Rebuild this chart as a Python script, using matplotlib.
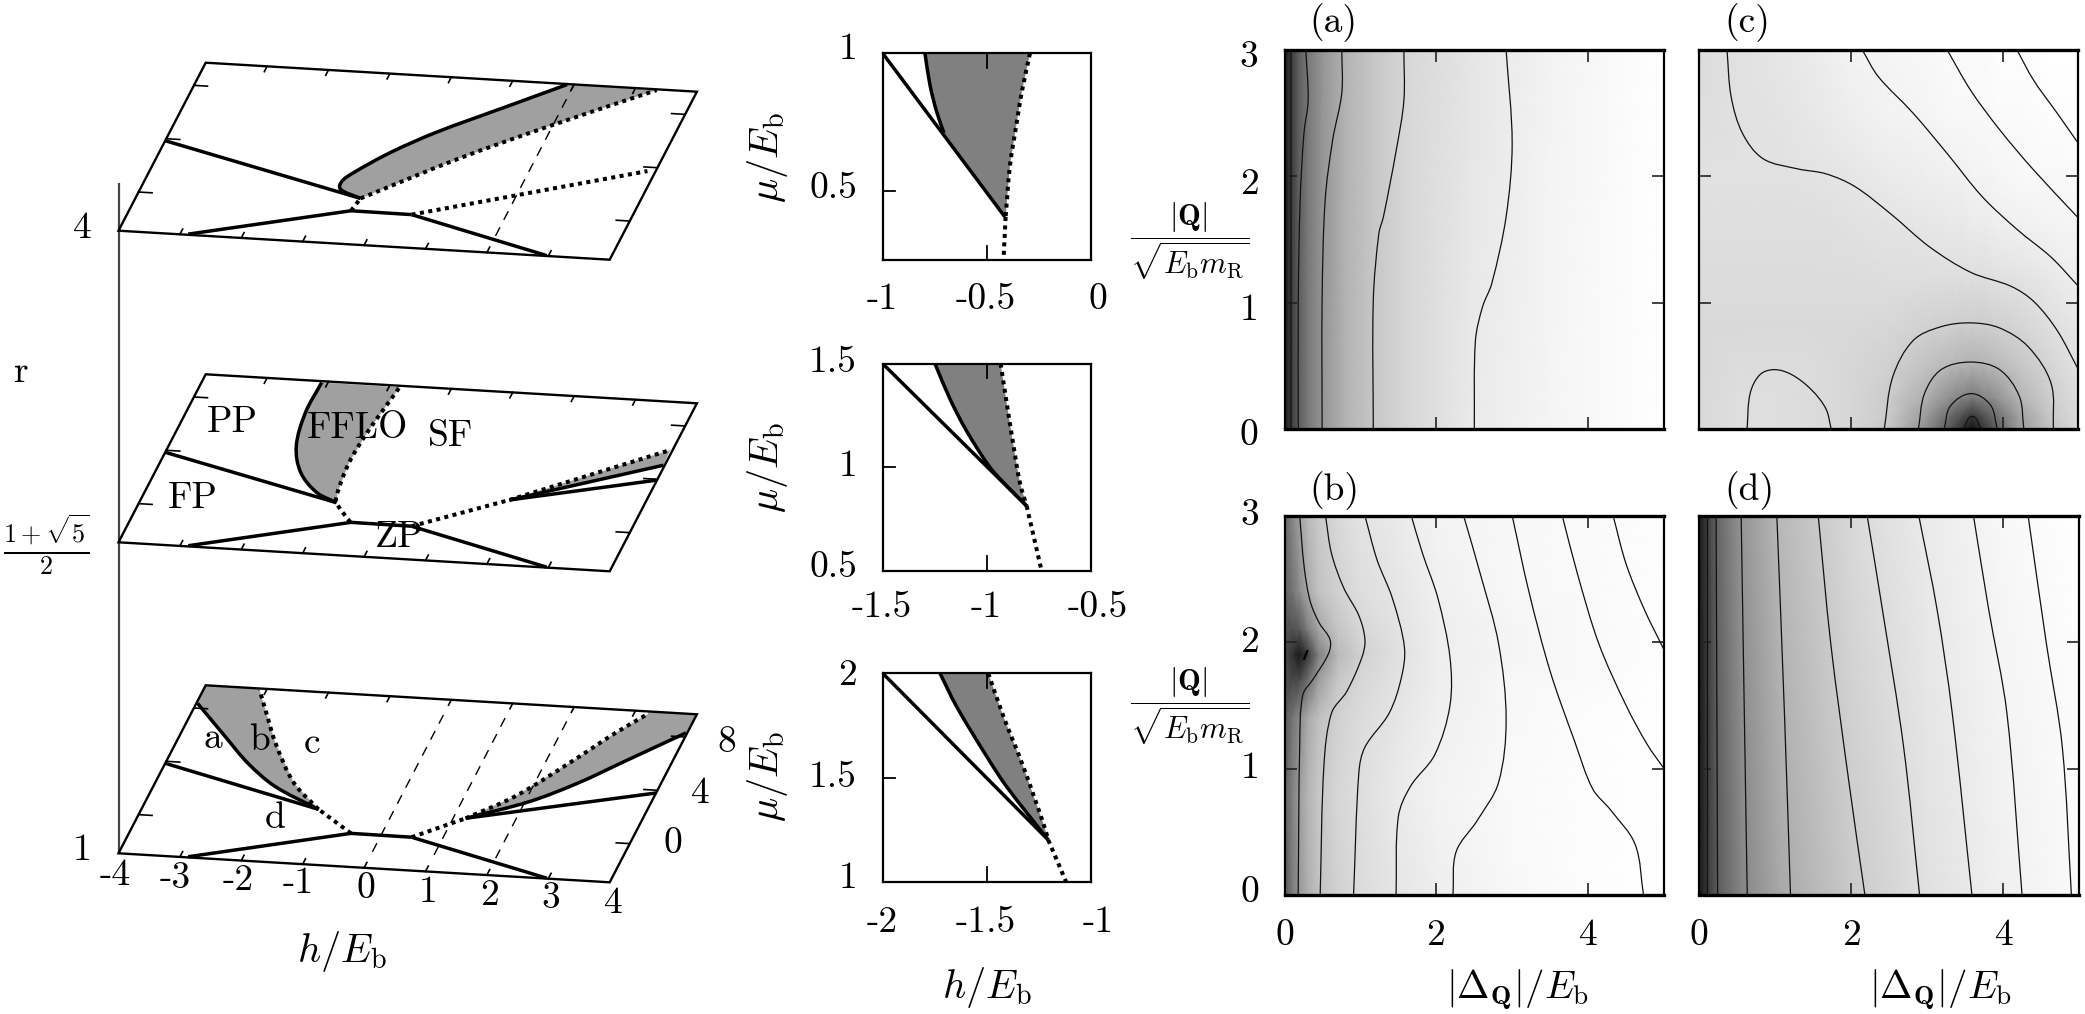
import numpy as np
import matplotlib
matplotlib.use('Agg')
import matplotlib.pyplot as plt
from matplotlib.path import Path
from matplotlib.patches import PathPatch, Polygon
from matplotlib.transforms import Affine2D

plt.rcParams['mathtext.fontset'] = 'cm'
W, H = 2085, 1014

# ---------- 3D stacked phase-diagram data (h, mu) ----------
h_ticks = [-3, -2, -1, 0, 1, 2, 3]
mu_ticks = [0, 4, 8]
H_MIN, H_MAX = -4, 4
MU_MIN, MU_MAX = -2.9, 9.7
base_h = [-2.87, -0.49, 0.5, 2.97]
base_mu = [-2.85, -0.45, -0.47, -2.87]

# r = 1 plane
b_left_h, b_left_mu = [-1.2, -4.0], [1.16, 3.85]
b_right_h, b_right_mu = [1.2, 4.0], [1.14, 3.8]
b_dot_l_h, b_dot_l_mu = [-0.49, -1.2], [-0.45, 1.16]
b_dot_r_h, b_dot_r_mu = [0.5, 1.2], [-0.47, 1.14]
b_sol_l_h = [-1.2, -2.07, -2.69, -3.27, -3.98]
b_sol_l_mu = [1.16, 2.63, 4.2, 6.05, 8.35]
b_dots_l_h = [-1.2, -1.8, -2.42, -2.81, -3.11]
b_dots_l_mu = [1.16, 2.95, 5.78, 7.92, 9.59]
b_sol_r_h = [1.2, 2.07, 2.69, 3.27, 3.98]
b_sol_r_mu = [1.14, 2.63, 4.2, 6.05, 8.3]
b_dots_r_h = [1.2, 1.8, 2.42, 2.85, 3.22]
b_dots_r_mu = [1.14, 2.95, 5.78, 7.92, 9.5]
b_dash_h = [0, 1, 2]
b_dash_lo = [-1.7, -1.66, -1.64]
b_dash_hi = [8.6, 8.6, 8.9]

# r = (1+sqrt5)/2 plane
m_left_h, m_left_mu = [-0.88, -4.0], [0.92, 3.85]
m_sol_h = [-0.88, -1.27, -1.69, -1.98, -2.11, -2.1]
m_sol_mu = [0.92, 1.56, 2.95, 4.87, 7.35, 9.6]
m_dots_h = [-0.5, -0.88, -0.947, -1.01, -0.97, -0.83]
m_dots_mu = [-0.45, 0.92, 1.65, 3.9, 6.16, 9.59]
m_dot_r_h, m_dot_r_mu = [0.5, 1.83], [-0.47, 1.86]
m_r1_h, m_r1_mu = [1.83, 3.99], [1.86, 3.93]
m_r2_h, m_r2_mu = [1.83, 3.98], [1.86, 5.05]
m_r3_h, m_r3_mu = [1.83, 3.96], [1.86, 6.18]

# r = 4 plane
t_left_h, t_left_mu = [-0.44, -4.0], [0.49, 3.85]
t_dot_l_h, t_dot_l_mu = [-0.49, -0.44], [-0.45, 0.49]
t_dot_r_h, t_dot_r_mu = [0.5, 3.87], [-0.47, 3.71]
t_sol_h = [-0.44, -0.827, -0.874, -0.762, -0.347, 0.213, 1.094, 1.89]
t_sol_mu = [0.49, 1.06, 1.67, 2.33, 3.95, 5.62, 7.75, 9.66]
t_dots_h = [-0.44, 0.79, 1.91, 3.35]
t_dots_mu = [0.49, 3.82, 6.47, 9.64]
t_dash_h, t_dash_lo, t_dash_hi = [2], [-1.66], [9.6]

# ---------- inset data ----------
i1_line_h, i1_line_mu = [-1, -0.413], [1, 0.406]
i1_sol_h = [-0.797, -0.773, -0.741, -0.706]
i1_sol_mu = [1, 0.885, 0.788, 0.711]
i1_dot_h = [-0.293, -0.333, -0.357, -0.389, -0.41]
i1_dot_mu = [1, 0.857, 0.746, 0.593, 0.406]
i1_low_h, i1_low_mu = [-0.41, -0.42], [0.406, 0.25]

i2_line_h, i2_line_mu = [-1.5, -0.809], [1.5, 0.814]
i2_sol_h = [-1.249, -1.177, -1.097, -0.985, -0.9, -0.809]
i2_sol_mu = [1.5, 1.33, 1.175, 1.0, 0.906, 0.814]
i2_dot_h = [-0.934, -0.905, -0.873, -0.841, -0.809]
i2_dot_mu = [1.5, 1.312, 1.109, 0.924, 0.814]
i2_low_h, i2_low_mu = [-0.809, -0.737], [0.814, 0.5]

i3_line_h, i3_line_mu = [-2, -1.205], [2, 1.2]
i3_sol_h = [-1.725, -1.645, -1.5, -1.405, -1.205]
i3_sol_mu = [2, 1.84, 1.6, 1.456, 1.2]
i3_dot_h = [-1.493, -1.42, -1.325, -1.229, -1.205]
i3_dot_mu = [2, 1.792, 1.552, 1.28, 1.2]
i3_low_h, i3_low_mu = [-1.205, -1.12], [1.2, 1]

# ---------- grey fields (grey level) ----------
a_x = [0, .07, .175, .3, .49, .8, 1.17, 1.6, 2.5, 3.5, 5]
a_y = [0, 3]
a_z = [[.12, .22, .36, .47, .58, .70, .78, .84, .92, .96, 1.0],
       [.12, .22, .36, .47, .58, .70, .78, .84, .90, .95, 1.0]]

c_x = [0, .5, 1, 1.5, 2, 2.5, 3, 3.3, 3.45, 3.6, 3.75, 3.9, 4.2, 4.6, 5]
c_y = [0, .1, .25, .5, .8, 1.2, 1.6, 2, 2.5, 3]
c_z = [[.85, .87, .87, .86, .84, .78, .55, .35, .22, .06, .22, .35, .6, .75, .85],
       [.85, .87, .87, .86, .84, .79, .6, .42, .32, .22, .32, .42, .62, .77, .86],
       [.85, .87, .87, .86, .84, .8, .68, .57, .52, .48, .52, .57, .7, .8, .87],
       [.85, .86, .86, .86, .84, .82, .76, .72, .70, .69, .70, .72, .77, .83, .89],
       [.85, .85, .85, .85, .85, .84, .82, .81, .80, .8, .80, .81, .83, .87, .9],
       [.86, .86, .86, .86, .86, .87, .87, .87, .87, .87, .87, .88, .89, .91, .93],
       [.87, .87, .87, .87, .88, .89, .90, .91, .91, .92, .92, .93, .94, .95, .96],
       [.88, .88, .88, .89, .90, .92, .93, .94, .94, .95, .95, .96, .97, .97, .98],
       [.87, .88, .89, .91, .93, .95, .96, .97, .97, .97, .97, .98, .98, .99, .99],
       [.86, .88, .90, .92, .95, .96, .97, .98, .98, .98, .98, .99, .99, 1, 1]]

b_x = [0, .1, .2, .3, .45, .7, 1, 1.5, 2, 3, 4, 5]
b_y = [0, .8, 1.4, 1.7, 1.9, 2.1, 2.4, 3]
b_z = [[.35, .48, .6, .68, .76, .82, .86, .9, .93, .97, .99, 1],
       [.38, .5, .62, .7, .78, .84, .87, .92, .95, .98, .99, 1],
       [.35, .45, .55, .66, .75, .82, .86, .9, .94, .97, .99, 1],
       [.3, .28, .3, .42, .62, .78, .84, .89, .93, .97, .98, 1],
       [.3, .2, .1, .22, .5, .72, .82, .88, .93, .96, .98, .99],
       [.33, .32, .35, .48, .65, .77, .84, .89, .93, .96, .98, .99],
       [.38, .45, .55, .66, .76, .82, .87, .9, .94, .97, .98, .99],
       [.4, .52, .63, .72, .79, .85, .89, .92, .95, .97, .98, .99]]

d_x = [0, .12, .24, .55, 1.05, 2, 3, 4, 5]
d_y = [0, 3]
d_z = [[.1, .24, .36, .52, .66, .79, .88, .94, .98],
       [.1, .26, .40, .58, .72, .85, .92, .97, 1.0]]

# ---------- contour lines (x at y) ----------
a_lines = [
    ([.08, .08, .08], [0, 1.5, 3]),
    ([.175, .175, .2, .25, .305, .275], [0, 1.02, 1.81, 2.34, 2.6, 3]),
    ([.49, .49, .53, .63, .75, .75], [0, 1.02, 1.81, 2.29, 2.66, 3]),
    ([1.166, 1.166, 1.24, 1.30, 1.47, 1.57, 1.57], [0, 1.02, 1.55, 1.68, 2.21, 2.6, 3]),
    ([2.5, 2.515, 2.61, 2.73, 2.92, 3.0, 2.92], [0, .70, .97, 1.15, 1.68, 2.26, 3.0]),
]
c_lines = [
    ([.365, .42, .57, .84, 1.29, 1.67, 2.05, 2.51, 3.04, 3.58, 4.11, 4.41, 4.72, 5],
     [3, 2.63, 2.34, 2.14, 2.06, 2.02, 1.92, 1.71, 1.44, 1.24, 1.13, 1.01, .78, .47]),
    ([2.15, 2.36, 2.82, 3.27, 3.73, 4.19, 4.64, 5], [3, 2.79, 2.5, 2.18, 1.84, 1.58, 1.36, 1.13]),
    ([3.27, 3.58, 3.96, 4.41, 5], [3, 2.68, 2.37, 2.05, 1.67]),
    ([4.19, 4.41, 4.72, 5], [3, 2.76, 2.5, 2.26]),
    ([.63, .67, .8, .99, 1.22, 1.48, 1.67, 1.74], [0, .28, .43, .47, .43, .31, .16, 0]),
    ([2.44, 2.55, 2.82, 3.19, 3.58, 3.96, 4.34, 4.64, 4.67], [0, .41, .70, .81, .84, .80, .65, .36, 0]),
    ([2.89, 2.97, 3.19, 3.58, 3.96, 4.22, 4.28], [0, .28, .47, .53, .47, .26, 0]),
    ([3.23, 3.31, 3.58, 3.84, 3.93], [0, .18, .28, .19, 0]),
    ([3.48, 3.6, 3.72], [0, .10, 0]),
]
b_lines = [
    ([.18, .2, .24, .38, .58, .6, .46, .34, .26, .2], [0, 1.17, 1.58, 1.71, 1.91, 2.02, 2.15, 2.32, 2.59, 3]),
    ([.47, .52, .62, .82, 1.02, 1.06, .98, .78, .62, .54], [0, 1.03, 1.44, 1.61, 1.88, 2.02, 2.21, 2.43, 2.70, 3]),
    ([.91, .98, 1.06, 1.38, 1.54, 1.58, 1.42, 1.22, 1.06], [0, .97, 1.17, 1.44, 1.72, 1.96, 2.35, 2.65, 3]),
    ([1.47, 1.5, 1.66, 1.98, 2.18, 2.18, 2.02, 1.82, 1.67], [0, .62, .86, 1.11, 1.5, 1.88, 2.35, 2.70, 3]),
    ([2.22, 2.26, 2.54, 2.82, 2.92, 2.82, 2.58, 2.36], [0, .34, .59, .89, 1.39, 1.99, 2.54, 3]),
    ([4.73, 4.62, 4.30, 4.06, 3.82, 3.5, 3.22, 3.0], [0, .40, .67, .84, 1.22, 1.77, 2.40, 3]),
    ([5, 4.78, 4.5, 4.14, 3.86, 3.66], [1.0, 1.19, 1.5, 1.99, 2.54, 3]),
    ([5, 4.74, 4.5, 4.33], [1.94, 2.26, 2.62, 3]),
]
d_lines = [
    ([.1, .1], [0, 3]),
    ([.24, .22], [0, 3]),
    ([.63, .55], [0, 3]),
    ([1.2, 1.12, 1.02], [0, 1.44, 3]),
    ([2.18, 1.97, 1.73, 1.565], [0, .89, 1.99, 3]),
    ([2.9, 2.69, 2.41, 2.21], [0, 1.17, 2.26, 3]),
    ([3.59, 3.33, 3.13, 2.89], [0, 1.44, 2.26, 3]),
    ([4.25, 4.05, 3.81, 3.61], [0, 1.44, 2.26, 3]),
    ([4.9, 4.78, 4.57, 4.33], [0, 1.17, 1.99, 3]),
]

# ---------- helpers ----------
fig = plt.figure(figsize=(W / 100, H / 100), dpi=100)
page = fig.add_axes([0, 0, 1, 1])
page.set_xlim(0, W)
page.set_ylim(H, 0)
page.axis('off')


def smooth(xs, ys, scale=(1.0, 1.0)):
    sc = np.array(scale, float)
    p = np.column_stack([xs, ys]).astype(float) * sc
    if len(p) < 3:
        return Path(p / sc)
    n = len(p)
    tang = np.zeros_like(p)
    for i in range(n):
        d = p[min(i + 1, n - 1)] - p[max(i - 1, 0)]
        tang[i] = d / max(np.hypot(*d), 1e-9)
    verts, codes = [p[0]], [Path.MOVETO]
    for i in range(n - 1):
        seg = np.hypot(*(p[i + 1] - p[i])) / 3
        verts += [p[i] + tang[i] * seg, p[i + 1] - tang[i + 1] * seg, p[i + 1]]
        codes += [Path.CURVE4] * 3
    return Path(np.array(verts) / sc, codes)


def curve(ax, xs, ys, tf=None, scale=(1.0, 1.0), **kw):
    kw.setdefault('fill', False)
    kw.setdefault('capstyle', 'butt')
    ax.add_patch(PathPatch(smooth(xs, ys, scale), transform=(tf if tf is not None else ax.transData), **kw))


THICK = dict(lw=2.5, ec='k')
DOT = dict(lw=2.9, ec='k', ls=(0, (1.0, 1.1)))
THIN_DASH = dict(lw=1.0, ec='k', ls=(0, (7, 6)))
PLANE_SCALE = (1.0, .4)
LABEL_SIZE = 27
MATH_SIZE = 29


def label(x, y, s, size=LABEL_SIZE, **kw):
    page.text(x, y, s, fontsize=size, family='cmr10', ha='center', va='center', color='k', **kw)


def math(x, y, s, size=MATH_SIZE, **kw):
    page.text(x, y, s, fontsize=size, ha='center', va='center', color='k', **kw)


def plane(y0):
    sx = 491.2 / (H_MAX - H_MIN)
    sy = 29 / (H_MAX - H_MIN)
    ux = 87.2 / (MU_MAX - MU_MIN)
    uy = -168 / (MU_MAX - MU_MIN)
    tr = Affine2D.from_values(sx, sy, ux, uy,
                              118.5 - sx * H_MIN - ux * MU_MIN,
                              y0 - sy * H_MIN - uy * MU_MIN)
    tf = tr + page.transData
    corners = [(H_MIN, MU_MIN), (H_MAX, MU_MIN), (H_MAX, MU_MAX), (H_MIN, MU_MAX)]
    page.add_patch(Polygon(corners, closed=True, fill=False, ec='k', lw=1.7, transform=tf, zorder=5))
    for t in h_ticks:
        page.plot([t, t], [MU_MIN, MU_MIN + .4], color='k', lw=1.2, transform=tf, zorder=5)
        page.plot([t, t], [MU_MAX, MU_MAX - .4], color='k', lw=1.2, transform=tf, zorder=5)
    for t in mu_ticks:
        page.plot([H_MIN, H_MIN + .22], [t, t], color='k', lw=1.2, transform=tf, zorder=5)
        page.plot([H_MAX, H_MAX - .22], [t, t], color='k', lw=1.2, transform=tf, zorder=5)
    curve(page, base_h[:2], base_mu[:2], tf, **THICK)
    curve(page, base_h[1:3], base_mu[1:3], tf, **THICK)
    curve(page, base_h[2:], base_mu[2:], tf, **THICK)
    return tf


GREY3D = '#a0a0a0'

# vertical r axis
page.plot([118.5, 118.5], [184, 853], color='#444444', lw=1.6, zorder=1)

# bottom plane
tf = plane(853.3)
page.add_patch(Polygon(list(zip(b_sol_l_h, b_sol_l_mu)) + [(H_MIN, MU_MAX), (b_dots_l_h[-1], MU_MAX)]
                       + list(zip(b_dots_l_h[:0:-1], b_dots_l_mu[:0:-1])),
                       closed=True, fc=GREY3D, ec='none', transform=tf, zorder=1))
page.add_patch(Polygon(list(zip(b_sol_r_h, b_sol_r_mu)) + [(H_MAX, MU_MAX), (b_dots_r_h[-1], MU_MAX)]
                       + list(zip(b_dots_r_h[:0:-1], b_dots_r_mu[:0:-1])),
                       closed=True, fc=GREY3D, ec='none', transform=tf, zorder=1))
for hv, lo, hi in zip(b_dash_h, b_dash_lo, b_dash_hi):
    curve(page, [hv, hv], [lo, hi], tf, **THIN_DASH)
curve(page, b_left_h, b_left_mu, tf, **THICK)
curve(page, b_right_h, b_right_mu, tf, **THICK)
curve(page, b_sol_l_h, b_sol_l_mu, tf, PLANE_SCALE, **THICK)
curve(page, b_sol_r_h, b_sol_r_mu, tf, PLANE_SCALE, **THICK)
curve(page, b_dot_l_h, b_dot_l_mu, tf, **DOT)
curve(page, b_dot_r_h, b_dot_r_mu, tf, **DOT)
curve(page, b_dots_l_h, b_dots_l_mu, tf, PLANE_SCALE, **DOT)
curve(page, b_dots_r_h, b_dots_r_mu, tf, PLANE_SCALE, **DOT)

# middle plane
tf = plane(542.3)
page.add_patch(Polygon(list(zip(m_sol_h, m_sol_mu)) + list(zip(m_dots_h[:1:-1], m_dots_mu[:1:-1])),
                       closed=True, fc=GREY3D, ec='none', transform=tf, zorder=1))
page.add_patch(Polygon(list(zip(m_r2_h, m_r2_mu)) + [(m_r3_h[1], m_r3_mu[1])],
                       closed=True, fc=GREY3D, ec='none', transform=tf, zorder=1))
curve(page, m_left_h, m_left_mu, tf, **THICK)
curve(page, m_sol_h, m_sol_mu, tf, PLANE_SCALE, **THICK)
curve(page, m_dots_h, m_dots_mu, tf, PLANE_SCALE, **DOT)
curve(page, m_dot_r_h, m_dot_r_mu, tf, **DOT)
curve(page, m_r1_h, m_r1_mu, tf, **THICK)
curve(page, m_r2_h, m_r2_mu, tf, **THICK)
curve(page, m_r3_h, m_r3_mu, tf, **DOT)

# top plane
tf = plane(230.7)
page.add_patch(Polygon(list(zip(t_sol_h, t_sol_mu)) + list(zip(t_dots_h[:0:-1], t_dots_mu[:0:-1])),
                       closed=True, fc=GREY3D, ec='none', transform=tf, zorder=1))
for hv, lo, hi in zip(t_dash_h, t_dash_lo, t_dash_hi):
    curve(page, [hv, hv], [lo, hi], tf, **THIN_DASH)
curve(page, t_left_h, t_left_mu, tf, **THICK)
curve(page, t_sol_h, t_sol_mu, tf, PLANE_SCALE, **THICK)
curve(page, t_dot_l_h, t_dot_l_mu, tf, **DOT)
curve(page, t_dot_r_h, t_dot_r_mu, tf, **DOT)
curve(page, t_dots_h, t_dots_mu, tf, PLANE_SCALE, **DOT)

# 3D labels
for s, x, y in zip(['-4', '-3', '-2', '-1', '0', '1', '2', '3', '4'],
                   [115, 175, 238, 298, 366, 428, 490, 551, 613],
                   [875, 878, 880, 883, 888, 892, 895, 898, 903]):
    label(x, y, s)
label(673, 843, '0')
label(700, 793, '4')
label(727, 742, '8')
label(82, 850, '1')
label(82, 228, '4')
label(21, 372, 'r')
math(46, 545, r'$\frac{1+\sqrt{5}}{2}$', 27)
math(342, 952, r'$h/E_{\rm b}$')
for s, x, y in [('a', 213, 738), ('b', 259, 740), ('c', 312, 743), ('d', 275, 818),
                ('PP', 232, 422), ('FFLO', 358, 428), ('SF', 450, 436), ('FP', 193, 498), ('ZP', 399, 537)]:
    label(x, y, s, zorder=6)

# ---------- insets ----------
GREY_IN = '#808080'


def inset(top, bot, xl, yl, my, ln, sol, dot, low, tx, ty, xty, ylab_y):
    ax = fig.add_axes([882.7 / W, 1 - bot / H, (1091 - 882.7) / W, (bot - top) / H])
    ax.set_xlim(*xl)
    ax.set_ylim(*yl)
    ax.set_xticks([])
    ax.set_yticks([])
    for s in ax.spines.values():
        s.set_linewidth(1.6)
    ax.fill(list(sol[0]) + list(dot[0][::-1]), list(sol[1]) + list(dot[1][::-1]),
            color=GREY_IN, lw=0, zorder=1)
    mx = (xl[0] + xl[1]) / 2
    ax.plot([mx, mx], [yl[0], yl[0] + (yl[1] - yl[0]) * .07], color='k', lw=1.3, zorder=2)
    ax.plot([mx, mx], [yl[1], yl[1] - (yl[1] - yl[0]) * .07], color='k', lw=1.3, zorder=2)
    ax.plot([xl[0], xl[0] + (xl[1] - xl[0]) * .06], [my, my], color='k', lw=1.3, zorder=2)
    ax.plot(*ln, color='k', lw=2.5, zorder=3, solid_capstyle='butt')
    curve(ax, sol[0], sol[1], **dict(THICK, zorder=3))
    curve(ax, dot[0], dot[1], **dict(DOT, zorder=3))
    curve(ax, low[0], low[1], **dict(DOT, zorder=3))
    for s, x in zip(tx, [882, 986, 1098]):
        label(x, xty, s)
    for s, y in ty:
        page.text(857, y, s, fontsize=LABEL_SIZE, family='cmr10', ha='right', va='center')
    math(768, ylab_y, r'$\mu/E_{\rm b}$', rotation=90)


inset(53.3, 260, (-1, 0), (.25, 1), .5,
      (i1_line_h, i1_line_mu), (i1_sol_h, i1_sol_mu), (i1_dot_h, i1_dot_mu), (i1_low_h, i1_low_mu),
      ['-1', '-0.5', '0'], [('1', 49), ('0.5', 188)], 299, 158)
inset(363.7, 571, (-1.5, -.5), (.5, 1.5), 1,
      (i2_line_h, i2_line_mu), (i2_sol_h, i2_sol_mu), (i2_dot_h, i2_dot_mu), (i2_low_h, i2_low_mu),
      ['-1.5', '-1', '-0.5'], [('1.5', 362), ('1', 466), ('0.5', 567)], 607, 468)
inset(673.3, 881.7, (-2, -1), (1, 2), 1.5,
      (i3_line_h, i3_line_mu), (i3_sol_h, i3_sol_mu), (i3_dot_h, i3_dot_mu), (i3_low_h, i3_low_mu),
      ['-2', '-1.5', '-1'], [('2', 675), ('1.5', 777), ('1', 878)], 922, 777)
math(987, 987, r'$h/E_{\rm b}$')


# ---------- heat maps ----------
def heat(left, right, top, bot, x, y, z, lines, name, nx, ny):
    ax = fig.add_axes([left / W, 1 - bot / H, (right - left) / W, (bot - top) / H])
    ax.pcolormesh(x, y, np.array(z), shading='gouraud', cmap='gray', vmin=0, vmax=1, rasterized=True)
    for lx, ly in lines:
        curve(ax, lx, ly, scale=(1 / 5, 1 / 3), lw=.9, ec='#111111', zorder=3)
    ax.set_xlim(0, 5)
    ax.set_ylim(0, 3)
    ax.set_xticks([2, 4])
    ax.set_yticks([1, 2])
    ax.tick_params(direction='in', length=8.5, width=1.2, top=True, right=True,
                   labelbottom=False, labelleft=False, color='#222222')
    for s in ax.spines.values():
        s.set_linewidth(1.6)
    ax.spines['top'].set_linewidth(2.4)
    ax.spines['bottom'].set_linewidth(2.4)
    label(nx, ny, name)
    return ax


heat(1285, 1663.6, 50, 429, a_x, a_y, a_z, a_lines, '(a)', 1333, 23)
heat(1699.3, 2078.4, 50, 429, c_x, c_y, c_z, c_lines, '(c)', 1747, 23)
axb = heat(1284.5, 1664, 515.8, 895, b_x, b_y, b_z, b_lines, '(b)', 1334, 491)
spot_x, spot_y = [.26, .3], [1.87, 1.93]
axb.plot(spot_x, spot_y, color='k', lw=1.6, zorder=4)
heat(1699.4, 2079, 515.8, 895, d_x, d_y, d_z, d_lines, '(d)', 1749, 491)

for s, y in zip('3210', [57, 184, 310, 435]):
    label(1249, y, s)
for s, y in zip('3210', [515, 642, 768, 892]):
    label(1250, y, s)
for s, x in zip('024', [1285, 1436, 1588]):
    label(x, 935, s)
for s, x in zip('024', [1699, 1852, 2004]):
    label(x, 935, s)
frac = r'$\dfrac{|\mathbf{Q}|}{\sqrt{E_{\rm b}m_{\rm R}}}$'
math(1190, 241, frac, 22)
math(1190, 706, frac, 22)
math(1517, 990, r'$|\Delta_{\mathbf{Q}}|/E_{\rm b}$', 28)
math(1940, 990, r'$|\Delta_{\mathbf{Q}}|/E_{\rm b}$', 28)

fig.savefig('out.png', dpi=100)
